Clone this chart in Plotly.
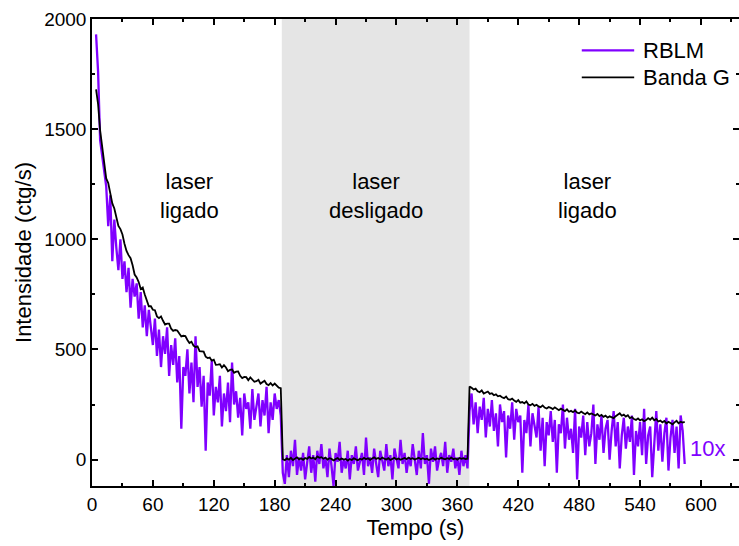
import numpy as np
import plotly.graph_objects as go

# sampling grid (s)
tempo = np.arange(4, 585, 2)

# RBLM signal (x10), laser on: 4-186 s
rblm_on1 = [
    1930, 1760, 1450, 1380, 1290, 1240, 1060, 1200, 900, 1090,
    960, 860, 1000, 820, 900, 760, 870, 690, 820, 740,
    800, 640, 760, 600, 700, 560, 680, 610, 520, 640,
    470, 590, 420, 560, 480, 600, 380, 520, 430, 550,
    350, 470, 140, 420, 380, 500, 300, 440, 260, 560,
    330, 420, 240, 380, 40, 350, 290, 450, 200, 330,
    260, 380, 150, 300, 220, 350, 170, 440, 250, 310,
    190, 280, 110, 300, 230, 260, 140, 320, 180, 240,
    300, 150, 270, 200, 330, 120, 260, 180, 300, 230,
    270, 200,
]
# laser off: 188-370 s
rblm_off = [
    -60, -110, 20, -80, 40, -30, 90, -70, 10, -50,
    30, -90, -10, 60, -60, 20, -100, 40, -20, 70,
    -40, 10, -80, 50, -30, -120, 30, -10, 80, -60,
    0, -40, 40, -90, 20, -20, 60, -50, -10, 30,
    -70, 100, -30, 10, -60, 50, -20, -80, 40, 0,
    -50, 70, -30, 20, -90, 50, 0, -40, 90, -20,
    30, -60, 10, -30, 70, -10, -70, 40, -40, 120,
    -20, 20, -110, 50, -10, 60, -50, 0, 30, -30,
    80, -60, 20, -10, 50, -40, 10, -70, 40, -30,
    20, -40,
]
# laser on again: 372-584 s
rblm_on2 = [
    220, 300, 160, 260, 120, 240, 180, 280, 100, 230,
    150, 270, 130, 210, 60, 250, 170, 220, 10, 200,
    140, 260, 90, 230, 170, 200, -60, 180, 120, 250,
    60, 210, 150, 100, 240, 40, 190, -30, 170, 110,
    220, 80, 180, -60, 160, 120, 250, 50, 190, 90,
    140, 30, 230, -90, 150, 100, 200, 20, 170, 60,
    120, 250, -20, 160, 90, 200, 30, 140, 180, 0,
    130, 220, 60, 170, -40, 110, 190, 50, 150, 80,
    200, -70, 130, 60, 170, 20, 230, -20, 110, 150,
    -80, 90, 220, 40, 160, -10, 120, 190, -50, 100,
    180, 30, 150, -40, 200, 130, -20,
]

# G band intensity
bandag_on1 = [
    1680, 1613, 1494, 1428, 1352, 1276, 1255, 1213, 1163, 1140,
    1100, 1061, 1046, 1022, 980, 947, 928, 914, 882, 840,
    827, 806, 774, 781, 749, 723, 696, 696, 680, 678,
    650, 642, 650, 630, 613, 617, 617, 594, 584, 588,
    586, 572, 559, 562, 561, 543, 529, 535, 517, 511,
    514, 492, 492, 490, 467, 461, 463, 449, 453, 430,
    431, 433, 418, 429, 418, 401, 407, 409, 394, 399,
    400, 380, 370, 375, 374, 360, 373, 365, 353, 356,
    362, 345, 352, 358, 343, 338, 347, 336, 345, 334,
    326, 324,
]
bandag_off = [
    2, -3, 5, 0, 8, -2, 4, 10, 1, 6,
    -1, 7, 3, 12, 5, 9, 2, 14, 8, 11,
    4, 9, 0, 6, 3, -4, 2, 7, -1, 5,
    0, 3, -5, 2, -2, 6, 1, -3, 4, 0,
    8, 2, 6, -1, 5, 10, 3, 7, 1, 9,
    4, 0, 6, -2, 3, 8, 1, 5, -1, 4,
    7, 2, 9, 3, 6, 0, 5, 8, 2, 6,
    1, 4, -2, 3, 7, 0, 5, 2, 8, 4,
    1, 6, 3, 9, 2, 5, 0, 7, 3, 6,
    2, 4,
]
bandag_on2 = [
    332, 326, 318, 322, 310, 306, 314, 300, 304, 309,
    298, 301, 292, 296, 287, 290, 283, 279, 286, 274,
    271, 277, 268, 262, 270, 258, 261, 255, 264, 250,
    247, 253, 244, 249, 241, 238, 246, 236, 232, 239,
    235, 229, 237, 230, 224, 231, 226, 220, 228, 217,
    221, 215, 223, 213, 210, 218, 211, 206, 214, 205,
    209, 203, 200, 207, 197, 203, 194, 199, 190, 196,
    192, 188, 197, 205, 210, 199, 204, 195, 201, 188,
    193, 184, 180, 187, 178, 183, 174, 179, 188, 181,
    190, 178, 184, 173, 177, 169, 175, 164, 171, 166,
    160, 169, 176, 165, 172, 168, 171,
]

rblm = rblm_on1 + rblm_off + rblm_on2
bandag = bandag_on1 + bandag_off + bandag_on2

laser_off_start, laser_off_end = 187, 372
x_ticks = [0, 60, 120, 180, 240, 300, 360, 420, 480, 540, 600]
y_ticks = [0, 500, 1000, 1500, 2000]

FONT = "Liberation Sans, Arial, sans-serif"
PURPLE = "#8000ff"

series = [("RBLM", rblm, PURPLE, 2.3), ("Banda G", bandag, "black", 1.8)]

fig = go.Figure()
for name, vals, color, width in series:
    fig.add_trace(go.Scatter(x=tempo, y=vals, mode="lines", name=name,
                             line=dict(color=color, width=width)))

fig.add_vrect(x0=laser_off_start, x1=laser_off_end, fillcolor="#e5e5e5",
              opacity=1, line_width=0, layer="below")

for xc, txt in [(96.5, "laser<br>ligado"), (280, "laser<br>desligado"),
                (488, "laser<br>ligado")]:
    fig.add_annotation(x=xc, y=1196, text=txt, showarrow=False,
                       font=dict(family=FONT, size=22, color="black"))
fig.add_annotation(x=606, y=50, text="10x", showarrow=False,
                   font=dict(family=FONT, size=22, color=PURPLE))

# legend key in the upper right corner
for k, (name, _, color, width) in enumerate(series):
    yk = 0.933 - k * 0.058
    fig.add_shape(type="line", xref="paper", yref="paper",
                  x0=0.757, x1=0.838, y0=yk, y1=yk,
                  line=dict(color=color, width=width))
    fig.add_annotation(xref="paper", yref="paper", x=0.849, y=yk,
                       xanchor="left", yanchor="middle", text=name,
                       showarrow=False,
                       font=dict(family=FONT, size=22, color="black"))

axis_common = dict(showline=True, linecolor="black", linewidth=1.5,
                   mirror="ticks", ticks="inside", ticklen=6, tickwidth=1.5,
                   tickcolor="black", showgrid=False, zeroline=False,
                   tickfont=dict(family=FONT, size=19, color="black"))

fig.update_xaxes(range=[0, 637.5], tickvals=x_ticks,
                 minor=dict(ticks="inside", ticklen=3, tickwidth=1.5,
                            dtick=30, tickcolor="black"),
                 title=dict(text="Tempo (s)", standoff=6,
                            font=dict(family=FONT, size=22, color="black")),
                 **axis_common)
fig.update_yaxes(range=[-120, 2000], tickvals=y_ticks,
                 minor=dict(ticks="inside", ticklen=3, tickwidth=1.5,
                            dtick=250, tickcolor="black"),
                 title=dict(text="Intensidade (ctg/s)", standoff=6,
                            font=dict(family=FONT, size=22, color="black")),
                 **axis_common)

fig.update_layout(
    width=739, height=546,
    margin=dict(l=92, r=0, t=19, b=60, autoexpand=False),
    plot_bgcolor="white", paper_bgcolor="white",
    showlegend=False,
)

fig.write_html("out.html")
